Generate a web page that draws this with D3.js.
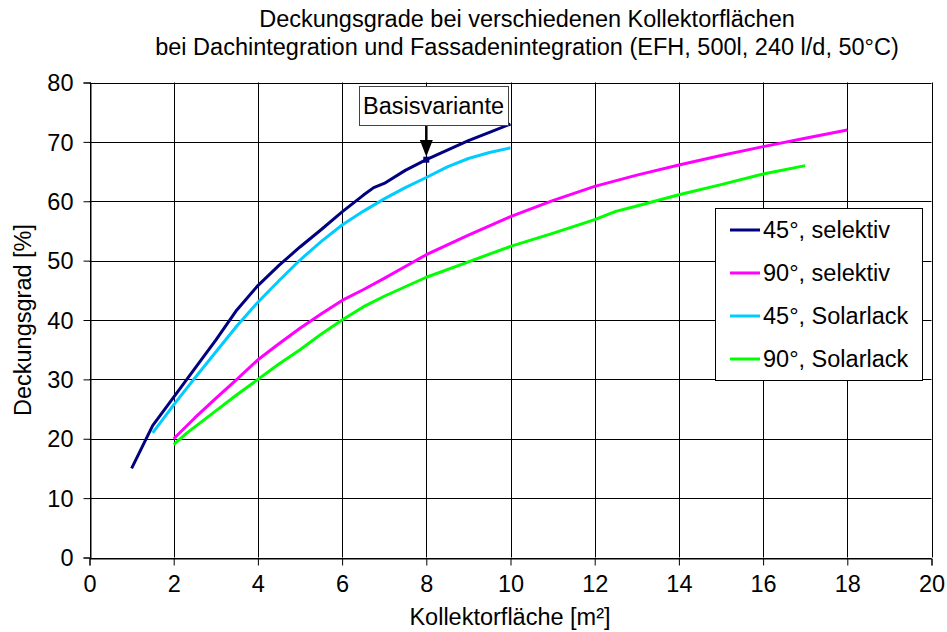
<!DOCTYPE html>
<html>
<head>
<meta charset="utf-8">
<script src="https://cdn.jsdelivr.net/npm/d3@7"></script>
<style>
  body { margin: 0; background: #fff; }
  text { font-family: "Liberation Sans", Arial, sans-serif; fill: #000; }
</style>
</head>
<body>
<div id="chart"></div>
<script>
// data
const seriesNames = ["45°, selektiv", "90°, selektiv", "45°, Solarlack", "90°, Solarlack"];
const seriesColors = ["#000080", "#ff00ff", "#00ccff", "#00ff00"];

const sel45X = [1, 1.5, 2, 2.5, 3, 3.5, 4, 4.5, 5, 5.5, 6, 6.5, 6.75, 7, 7.5, 8, 8.5, 9, 9.5, 10];
const sel45Y = [15, 22.2, 27, 31.8, 36.6, 41.7, 45.8, 49.2, 52.3, 55.2, 58.2, 61, 62.3, 63, 65.2, 67, 68.6, 70.2, 71.6, 73];

const sel90X = [2, 2.5, 3, 3.5, 4, 4.5, 5, 5.5, 6, 6.5, 7, 7.5, 8, 9, 10, 11, 12, 13, 14, 15, 16, 17, 18];
const sel90Y = [20, 23.5, 26.8, 30, 33.3, 36, 38.6, 41, 43.3, 45.1, 47, 49, 51, 54.3, 57.4, 60.1, 62.5, 64.4, 66.1, 67.7, 69.2, 70.6, 72];

const lack45X = [1.5, 2, 2.5, 3, 3.5, 4, 4.5, 5, 5.5, 6, 6.5, 7, 7.5, 8, 8.5, 9, 9.5, 10];
const lack45Y = [21, 25.7, 30.2, 34.6, 39, 43, 46.6, 50.1, 53.2, 56, 58.3, 60.4, 62.3, 64, 65.8, 67.2, 68.2, 69];

const lack90X = [2, 2.3, 3, 3.5, 4, 4.5, 5, 5.5, 6, 6.5, 7, 7.5, 8, 9, 10, 11, 12, 12.5, 13, 14, 15, 16, 17];
const lack90Y = [19, 20.9, 24.7, 27.4, 30, 32.6, 35, 37.6, 40, 42.2, 44, 45.6, 47.2, 49.8, 52.4, 54.6, 56.9, 58.3, 59.2, 61.1, 62.8, 64.6, 66];

const xTicks = [0, 2, 4, 6, 8, 10, 12, 14, 16, 18, 20];
const yTicks = [0, 10, 20, 30, 40, 50, 60, 70, 80];

const basisPoint = [8, 67];

const width = 947, height = 632;
const fs = 23.5;

const svg = d3.select("#chart").append("svg")
  .attr("width", width)
  .attr("height", height);

const x = d3.scaleLinear().domain([0, 20]).range([89.5, 931.5]);
const y = d3.scaleLinear().domain([0, 80]).range([557.5, 82.5]);

// grid
svg.append("g").selectAll("line.vg")
  .data(xTicks)
  .enter().append("line")
  .attr("x1", d => Math.round(x(d)) + 0.5).attr("x2", d => Math.round(x(d)) + 0.5)
  .attr("y1", y(0)).attr("y2", y(80))
  .attr("stroke", "#000").attr("stroke-width", 1);

svg.append("g").selectAll("line.hg")
  .data(yTicks)
  .enter().append("line")
  .attr("y1", d => Math.round(y(d)) + 0.5).attr("y2", d => Math.round(y(d)) + 0.5)
  .attr("x1", x(0)).attr("x2", x(20))
  .attr("stroke", "#000").attr("stroke-width", 1);

// axes
const xAxis = d3.axisBottom(x).tickValues(xTicks).tickSize(7).tickPadding(10);
const gx = svg.append("g")
  .attr("transform", `translate(0, ${Math.round(y(0)) + 0.5})`)
  .call(xAxis);
gx.selectAll("text").style("font-size", fs + "px");

const yAxis = d3.axisLeft(y).tickValues(yTicks).tickSize(7).tickPadding(10);
const gy = svg.append("g")
  .attr("transform", `translate(${Math.round(x(0)) + 0.5}, 0)`)
  .call(yAxis);
gy.selectAll("text").style("font-size", fs + "px").attr("dy", "0.35em");

svg.selectAll(".domain").attr("stroke", "#000");
svg.selectAll(".tick line").attr("stroke", "#000");

// lines
const allSeries = [
  { xs: sel45X, ys: sel45Y },
  { xs: sel90X, ys: sel90Y },
  { xs: lack45X, ys: lack45Y },
  { xs: lack90X, ys: lack90Y }
];

const line = d3.line()
  .x(d => x(d[0]))
  .y(d => y(d[1]));

// draw the solarlack ones first, then selektiv on top
[3, 2, 1, 0].forEach(i => {
  const s = allSeries[i];
  svg.append("path")
    .datum(s.xs.map((v, j) => [v, s.ys[j]]))
    .attr("d", line)
    .attr("fill", "none")
    .attr("stroke", seriesColors[i])
    .attr("stroke-width", 3)
    .attr("stroke-linejoin", "round");
});

// Basisvariante marker + annotation
svg.append("rect")
  .attr("x", x(basisPoint[0]) - 3)
  .attr("y", y(basisPoint[1]) - 3)
  .attr("width", 6).attr("height", 6)
  .attr("fill", "#000080");

const bx = x(basisPoint[0]);
svg.append("rect")
  .attr("x", 359.5).attr("y", 86.5)
  .attr("width", 149).attr("height", 39)
  .attr("fill", "#fff")
  .attr("stroke", "#444").attr("stroke-width", 1);

svg.append("text")
  .attr("x", 433.5).attr("y", 114)
  .attr("text-anchor", "middle")
  .style("font-size", fs + "px")
  .text("Basisvariante");

svg.append("line")
  .attr("x1", bx).attr("x2", bx)
  .attr("y1", 126).attr("y2", 142)
  .attr("stroke", "#000").attr("stroke-width", 2.5);

svg.append("path")
  .attr("d", `M${bx - 6.5},140 L${bx + 6.5},140 L${bx},${y(basisPoint[1]) - 3} Z`)
  .attr("fill", "#000");

// legend
const lg = svg.append("g");
lg.append("rect")
  .attr("x", 715.5).attr("y", 208.5)
  .attr("width", 207).attr("height", 172)
  .attr("fill", "#fff")
  .attr("stroke", "#000").attr("stroke-width", 1);

const legendY = d3.scalePoint().domain(seriesNames).range([230, 359]);

seriesNames.forEach((name, i) => {
  lg.append("line")
    .attr("x1", 730).attr("x2", 760)
    .attr("y1", legendY(name)).attr("y2", legendY(name))
    .attr("stroke", seriesColors[i]).attr("stroke-width", 3);
  lg.append("text")
    .attr("x", 763)
    .attr("y", legendY(name))
    .attr("dy", "0.35em")
    .style("font-size", fs + "px")
    .text(name);
});

// titles
svg.append("text")
  .attr("x", 527).attr("y", 27)
  .attr("text-anchor", "middle")
  .style("font-size", fs + "px")
  .text("Deckungsgrade bei verschiedenen Kollektorflächen");

svg.append("text")
  .attr("x", 527).attr("y", 55)
  .attr("text-anchor", "middle")
  .style("font-size", fs + "px")
  .text("bei Dachintegration und Fassadenintegration (EFH, 500l, 240 l/d, 50°C)");

svg.append("text")
  .attr("x", 510).attr("y", 625)
  .attr("text-anchor", "middle")
  .style("font-size", fs + "px")
  .text("Kollektorfläche [m²]");

svg.append("text")
  .attr("transform", "translate(31, 320) rotate(-90)")
  .attr("text-anchor", "middle")
  .style("font-size", fs + "px")
  .text("Deckungsgrad [%]");
</script>
</body>
</html>
